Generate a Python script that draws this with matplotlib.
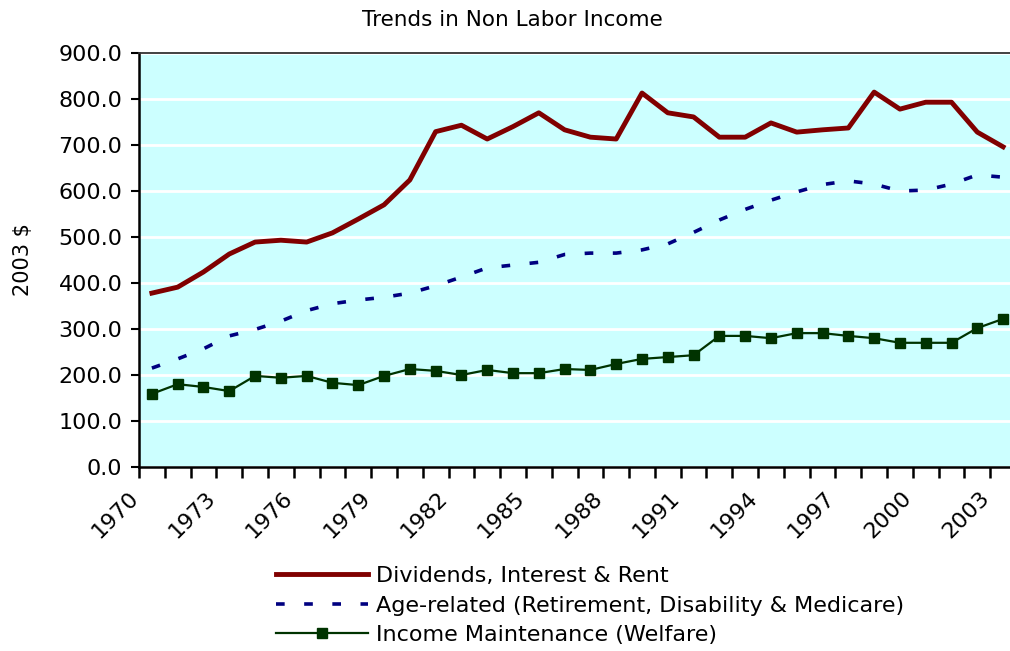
import matplotlib
matplotlib.use("Agg")
import matplotlib.pyplot as plt
from matplotlib.transforms import ScaledTranslation

plt.rcParams['font.family'] = ['DejaVu Sans']

# Data (2003 dollars)
years = list(range(1970, 2004))
dividends = [378, 391, 424, 463, 489, 493, 489, 509, 539, 570,
             624, 729, 743, 713, 740, 770, 733, 717, 713, 813,
             770, 761, 717, 717, 748, 728, 733, 737, 815, 778,
             793, 793, 728, 696]
age_related = [215, 235, 257, 285, 299, 317, 340, 355, 363, 369,
               378, 394, 413, 433, 439, 445, 462, 465, 465, 472,
               485, 510, 537, 560, 580, 598, 614, 622, 615, 600,
               602, 615, 635, 630]
welfare = [159, 180, 174, 165, 198, 194, 198, 183, 178, 198,
           213, 209, 200, 211, 204, 204, 213, 211, 224, 235,
           239, 243, 285, 285, 280, 291, 291, 285, 280, 270,
           270, 270, 302, 322]
labels = ['Dividends, Interest & Rent',
          'Age-related (Retirement, Disability & Medicare)',
          'Income Maintenance (Welfare)']

fig = plt.figure(figsize=(10.1, 6.51), dpi=100)
# plot area runs slightly past the right edge, as in the original
ax = fig.add_axes([139 / 1010, 184 / 651, 877 / 1010, 414 / 651])
ax.set_facecolor('#CCFFFF')

x = list(range(len(years)))
ax.plot(x, dividends, color='#800000', lw=3.5, label=labels[0], zorder=3)
ax.plot(x, age_related, color='#000080', lw=2.6, dashes=(2.4, 5.4),
        label=labels[1], zorder=3)
ax.plot(x, welfare, color='#003300', lw=1.6, marker='s', markersize=6.5,
        label=labels[2], zorder=3)

ax.set_xlim(-0.5, len(years) - 0.5)
ax.set_ylim(0, 900)
ax.set_yticks(range(0, 1000, 100))
ax.set_yticklabels([f'{v:.1f}' for v in range(0, 1000, 100)], fontsize=16)
ax.yaxis.grid(True, color='white', lw=2)
ax.set_axisbelow(True)

# category boundaries carry the tick marks, labels every 3 years
ax.set_xticks([i - 0.5 for i in range(len(years) + 1)], minor=True)
ax.set_xticks(x[::3])
ax.set_xticklabels([str(y) for y in years[::3]], fontsize=16,
                   rotation=45, ha='right', va='center', rotation_mode='anchor')
ax.tick_params(axis='x', which='major', length=0, pad=0)
ax.tick_params(axis='x', which='minor', length=8, width=1.8, direction='out')
ax.tick_params(axis='y', length=6, width=1.5, pad=6)
offset = ScaledTranslation(-0.17, -0.28, fig.dpi_scale_trans)
for lab in ax.get_xticklabels():
    lab.set_transform(lab.get_transform() + offset)

for side in ['left', 'bottom']:
    ax.spines[side].set_linewidth(1.8)
    ax.spines[side].set_color('black')
ax.spines['top'].set_color('#333333')
ax.spines['top'].set_linewidth(1.3)
ax.spines['right'].set_visible(False)

ax.set_ylabel('2003 $', fontsize=15)
ax.yaxis.set_label_coords(-106 / 877, 0.5)

fig.text(512 / 1010, 1 - 20 / 651, 'Trends in Non Labor Income',
         ha='center', va='center', fontsize=15.5)

fig.legend(loc='upper left', bbox_to_anchor=(276 / 1010, 1 - 566 / 651),
           frameon=False, fontsize=16, handlelength=4.15, handletextpad=0.36,
           labelspacing=0.43, borderpad=0, borderaxespad=0)

fig.savefig('out.png', dpi=100)
